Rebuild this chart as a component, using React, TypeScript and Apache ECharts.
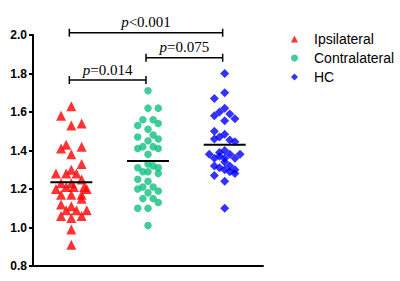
import React, { useEffect, useRef } from "react";
import * as echarts from "echarts";

const categories = ["Ipsilateral", "Contralateral", "HC"];

// values, with their beeswarm column (in point widths)
const ipsilateralValues = [1.63, 1.58, 1.53, 1.54, 1.43, 1.41, 1.42, 1.38, 1.33, 1.30, 1.28, 1.28, 1.28, 1.25, 1.23, 1.23, 1.21, 1.21, 1.21, 1.20, 1.20, 1.17, 1.17, 1.17, 1.15, 1.12, 1.11, 1.09, 1.09, 1.09, 1.06, 1.05, 1.06, 0.99, 0.91];
const ipsilateralColumns = [0, -2, 0, 2, -1, -2, 2, 0, 2, 0, -3, -1, 1, 2, -2, 0, -1, 0.5, 2.5, -3, 3, -2, 0, 2, 2, -2, 0, -1, 1, 3, -2, 0, 2, 0, 0];

const contralateralValues = [1.71, 1.62, 1.62, 1.56, 1.56, 1.53, 1.54, 1.51, 1.48, 1.47, 1.46, 1.45, 1.42, 1.42, 1.41, 1.41, 1.38, 1.33, 1.31, 1.32, 1.31, 1.29, 1.29, 1.28, 1.25, 1.24, 1.21, 1.21, 1.20, 1.19, 1.18, 1.15, 1.15, 1.13, 1.10, 1.10, 1.01];
const contralateralColumns = [0, 0, 2, -1, 1, -2, 2, 0, 1, -2, 2, 0, -1, 1, -2, 2, 0, 0, -2, 1, 2, -1, 0, 2, -2, 0, -1, 1, -2, 2, 0, -1, 1, 2, -2, 0, 0];

const hcValues = [1.80, 1.70, 1.67, 1.62, 1.60, 1.58, 1.59, 1.555, 1.565, 1.50, 1.47, 1.485, 1.46, 1.455, 1.445, 1.40, 1.39, 1.38, 1.38, 1.38, 1.37, 1.36, 1.36, 1.36, 1.34, 1.32, 1.32, 1.31, 1.30, 1.30, 1.29, 1.28, 1.27, 1.24, 1.10];
const hcColumns = [0, 0, -2, 0, -1, -2, 1, 0, 2, -2, -1, 0, -2, 1, 2, 0, -1, -3, 1, 3, -1, -2, 0, 2, 0, -2, 1, -1, 0, 2, 1, 2, -2, 0, 0];

const groupMeans = [1.235, 1.345, 1.43];

// significance brackets: from group, to group, height (value units), p text
const bracketFrom = [0, 0, 1];
const bracketTo = [2, 1, 2];
const bracketLevel = [2.012, 1.766, 1.882];
const bracketText = ["<0.001", "=0.014", "=0.075"];

const yTicks = { min: 0.8, max: 2.0, interval: 0.2 };

const COLUMN_STEP = 0.067; // one point width in category units
const SERIF = "'Liberation Serif', 'Times New Roman', serif";
const SANS = "'Liberation Sans', Arial, sans-serif";

function toPoints(values: number[], columns: number[], group: number) {
  return values.map((v, i) => [group + columns[i] * COLUMN_STEP, v]);
}

export default function App() {
  const ref = useRef<HTMLDivElement>(null);
  useEffect(() => {
    if (!ref.current) return;
    const chart = echarts.init(ref.current, undefined, { renderer: "svg" });
    const option: any = {
      animation: false,
      backgroundColor: "#fff",
      grid: { left: 33, right: 137, top: 35, bottom: 15 },
      legend: {
        orient: "vertical",
        left: 286,
        top: 27,
        itemWidth: 7,
        itemHeight: 7,
        itemGap: 5,
        textStyle: { fontFamily: SANS, fontSize: 14, color: "#000", padding: [0, 0, 0, 11] },
        data: categories,
      },
      xAxis: [
        {
          type: "category",
          data: categories,
          boundaryGap: true,
          axisLine: { onZero: false, lineStyle: { color: "#000", width: 2 } },
          axisTick: { alignWithLabel: true, length: 5, lineStyle: { color: "#000", width: 2 } },
          axisLabel: { show: false },
          splitLine: { show: false },
        },
        { type: "value", min: -0.5, max: 2.5, show: false, gridIndex: 0 },
      ],
      yAxis: {
        type: "value",
        min: yTicks.min,
        max: yTicks.max,
        interval: yTicks.interval,
        axisLine: { show: true, onZero: false, lineStyle: { color: "#000", width: 2 } },
        axisTick: { show: true, length: 4, lineStyle: { color: "#000", width: 2 } },
        axisLabel: {
          color: "#000",
          fontWeight: "bold",
          fontSize: 12,
          fontFamily: SANS,
          margin: 6,
          formatter: (v: number) => v.toFixed(1),
        },
        splitLine: { show: false },
      },
      series: [
        {
          name: categories[0],
          type: "scatter",
          xAxisIndex: 1,
          symbol: "triangle",
          symbolSize: 10,
          itemStyle: { color: "#FF0000" },
          data: toPoints(ipsilateralValues, ipsilateralColumns, 0),
        },
        {
          name: categories[1],
          type: "scatter",
          xAxisIndex: 1,
          symbol: "circle",
          symbolSize: 7.5,
          itemStyle: { color: "#10C07E" },
          data: toPoints(contralateralValues, contralateralColumns, 1),
        },
        {
          name: categories[2],
          type: "scatter",
          xAxisIndex: 1,
          symbol: "diamond",
          symbolSize: 9,
          itemStyle: { color: "#0000FF" },
          data: toPoints(hcValues, hcColumns, 2),
        },
        {
          type: "custom",
          xAxisIndex: 1,
          z: 5,
          silent: true,
          data: groupMeans.map((m, i) => [i, m]),
          renderItem: (_params: any, api: any) => {
            const p = api.coord([api.value(0), api.value(1)]);
            return {
              type: "line",
              shape: { x1: p[0] - 21, y1: p[1], x2: p[0] + 21, y2: p[1] },
              style: { stroke: "#000", lineWidth: 2 },
            };
          },
        },
        {
          type: "custom",
          xAxisIndex: 1,
          z: 5,
          silent: true,
          clip: false,
          data: bracketFrom.map((f, i) => [f, bracketTo[i], bracketLevel[i]]),
          encode: { x: [0, 1], y: 2 },
          renderItem: (params: any, api: any) => {
            const a = api.coord([api.value(0), api.value(2)]);
            const b = api.coord([api.value(1), api.value(2)]);
            const y = a[1];
            const h = 4;
            const st = { stroke: "#000", lineWidth: 1.5 };
            return {
              type: "group",
              children: [
                { type: "line", shape: { x1: a[0] - 2, y1: y, x2: b[0] - 2, y2: y }, style: st },
                { type: "line", shape: { x1: a[0] - 2, y1: y - h, x2: a[0] - 2, y2: y + h }, style: st },
                { type: "line", shape: { x1: b[0] - 2, y1: y - h, x2: b[0] - 2, y2: y + h }, style: st },
                {
                  type: "text",
                  x: (a[0] + b[0]) / 2 - 2,
                  y: y - 3,
                  style: {
                    text: "{i|p}{n|" + bracketText[params.dataIndex] + "}",
                    align: "center",
                    verticalAlign: "bottom",
                    rich: {
                      i: { fontFamily: SERIF, fontSize: 15, fontStyle: "italic", fill: "#000", color: "#000" },
                      n: { fontFamily: SERIF, fontSize: 15, fill: "#000", color: "#000" },
                    },
                  },
                },
              ],
            };
          },
        },
      ],
    };
    chart.setOption(option);
    return () => chart.dispose();
  }, []);
  return (
    <div
      ref={ref}
      style={{ position: "fixed", left: 0, top: 0, width: 400, height: 281, background: "#fff" }}
    />
  );
}
